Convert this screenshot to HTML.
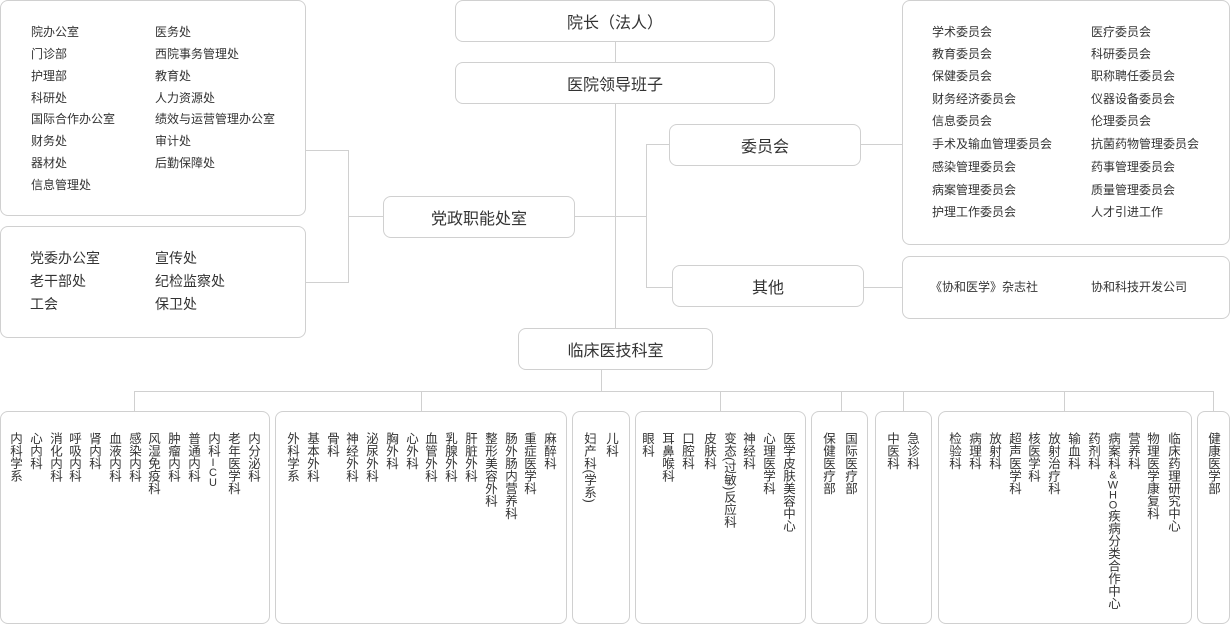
<!DOCTYPE html>
<html><head><meta charset="utf-8"><style>
body{margin:0;width:1230px;height:624px;position:relative;background:#fff;font-family:"Liberation Sans","Noto Sans CJK SC",sans-serif;color:#333;overflow:hidden}
.b{position:absolute;border:1px solid #d0d0d0;border-radius:8px;box-sizing:border-box;background:#fff}
.t{display:flex;align-items:center;justify-content:center;font-size:16px}
.l{position:absolute;background:#d0d0d0}
.s{position:absolute;font-size:12px;white-space:nowrap;line-height:14px}
.m{position:absolute;font-size:14px;white-space:nowrap;line-height:16px}
.v{position:absolute;top:432px;writing-mode:vertical-rl;text-orientation:upright;font-size:12.5px;line-height:14px;letter-spacing:0;white-space:nowrap;transform:translateX(-7px)}
.v .p{text-orientation:mixed;letter-spacing:0}
.v .a{font-size:11px;letter-spacing:-2px}
</style></head><body>
<div class="l" style="left:615px;top:41px;width:1px;height:287px"></div>
<div class="l" style="left:574px;top:216px;width:72px;height:1px"></div>
<div class="l" style="left:646px;top:144px;width:1px;height:144px"></div>
<div class="l" style="left:646px;top:144px;width:24px;height:1px"></div>
<div class="l" style="left:646px;top:287px;width:27px;height:1px"></div>
<div class="l" style="left:860px;top:144px;width:42px;height:1px"></div>
<div class="l" style="left:863px;top:287px;width:39px;height:1px"></div>
<div class="l" style="left:348px;top:216px;width:36px;height:1px"></div>
<div class="l" style="left:348px;top:150px;width:1px;height:133px"></div>
<div class="l" style="left:305px;top:150px;width:43px;height:1px"></div>
<div class="l" style="left:305px;top:282px;width:43px;height:1px"></div>
<div class="l" style="left:601px;top:369px;width:1px;height:22px"></div>
<div class="l" style="left:134px;top:391px;width:1080px;height:1px"></div>
<div class="l" style="left:134px;top:391px;width:1px;height:21px"></div>
<div class="l" style="left:421px;top:391px;width:1px;height:21px"></div>
<div class="l" style="left:720px;top:391px;width:1px;height:21px"></div>
<div class="l" style="left:841px;top:391px;width:1px;height:21px"></div>
<div class="l" style="left:903px;top:391px;width:1px;height:21px"></div>
<div class="l" style="left:1064px;top:391px;width:1px;height:21px"></div>
<div class="l" style="left:1213px;top:391px;width:1px;height:21px"></div>

<div class="b t" style="left:455px;top:0;width:320px;height:42px">院长（法人）</div>
<div class="b t" style="left:455px;top:62px;width:320px;height:42px">医院领导班子</div>
<div class="b t" style="left:383px;top:196px;width:192px;height:42px">党政职能处室</div>
<div class="b t" style="left:669px;top:124px;width:192px;height:42px">委员会</div>
<div class="b t" style="left:672px;top:265px;width:192px;height:42px">其他</div>
<div class="b t" style="left:518px;top:328px;width:195px;height:42px">临床医技科室</div>

<div class="b" style="left:0;top:0;width:306px;height:216px"></div>
<div class="s" style="left:31px;top:25px">院办公室</div><div class="s" style="left:155px;top:25px">医务处</div>
<div class="s" style="left:31px;top:47px">门诊部</div><div class="s" style="left:155px;top:47px">西院事务管理处</div>
<div class="s" style="left:31px;top:69px">护理部</div><div class="s" style="left:155px;top:69px">教育处</div>
<div class="s" style="left:31px;top:91px">科研处</div><div class="s" style="left:155px;top:91px">人力资源处</div>
<div class="s" style="left:31px;top:112px">国际合作办公室</div><div class="s" style="left:155px;top:112px">绩效与运营管理办公室</div>
<div class="s" style="left:31px;top:134px">财务处</div><div class="s" style="left:155px;top:134px">审计处</div>
<div class="s" style="left:31px;top:156px">器材处</div><div class="s" style="left:155px;top:156px">后勤保障处</div>
<div class="s" style="left:31px;top:178px">信息管理处</div>

<div class="b" style="left:0;top:226px;width:306px;height:112px"></div>
<div class="m" style="left:30px;top:250px">党委办公室</div><div class="m" style="left:155px;top:250px">宣传处</div>
<div class="m" style="left:30px;top:273px">老干部处</div><div class="m" style="left:155px;top:273px">纪检监察处</div>
<div class="m" style="left:30px;top:296px">工会</div><div class="m" style="left:155px;top:296px">保卫处</div>

<div class="b" style="left:902px;top:0;width:328px;height:245px"></div>
<div class="s" style="left:932px;top:25px">学术委员会</div><div class="s" style="left:1091px;top:25px">医疗委员会</div>
<div class="s" style="left:932px;top:47px">教育委员会</div><div class="s" style="left:1091px;top:47px">科研委员会</div>
<div class="s" style="left:932px;top:69px">保健委员会</div><div class="s" style="left:1091px;top:69px">职称聘任委员会</div>
<div class="s" style="left:932px;top:92px">财务经济委员会</div><div class="s" style="left:1091px;top:92px">仪器设备委员会</div>
<div class="s" style="left:932px;top:114px">信息委员会</div><div class="s" style="left:1091px;top:114px">伦理委员会</div>
<div class="s" style="left:932px;top:137px">手术及输血管理委员会</div><div class="s" style="left:1091px;top:137px">抗菌药物管理委员会</div>
<div class="s" style="left:932px;top:160px">感染管理委员会</div><div class="s" style="left:1091px;top:160px">药事管理委员会</div>
<div class="s" style="left:932px;top:183px">病案管理委员会</div><div class="s" style="left:1091px;top:183px">质量管理委员会</div>
<div class="s" style="left:932px;top:205px">护理工作委员会</div><div class="s" style="left:1091px;top:205px">人才引进工作</div>

<div class="b" style="left:902px;top:256px;width:328px;height:63px"></div>
<div class="s" style="left:930px;top:280px">《协和医学》杂志社</div><div class="s" style="left:1091px;top:280px">协和科技开发公司</div>

<div class="b" style="left:0;top:411px;width:270px;height:213px"></div>
<div class="b" style="left:275px;top:411px;width:292px;height:213px"></div>
<div class="b" style="left:572px;top:411px;width:58px;height:213px"></div>
<div class="b" style="left:635px;top:411px;width:171px;height:213px"></div>
<div class="b" style="left:811px;top:411px;width:57px;height:213px"></div>
<div class="b" style="left:875px;top:411px;width:57px;height:213px"></div>
<div class="b" style="left:938px;top:411px;width:254px;height:213px"></div>
<div class="b" style="left:1197px;top:411px;width:33px;height:213px"></div>

<div class="v" style="left:15px">内科学系</div>
<div class="v" style="left:35px">心内科</div>
<div class="v" style="left:55px">消化内科</div>
<div class="v" style="left:74px">呼吸内科</div>
<div class="v" style="left:94px">肾内科</div>
<div class="v" style="left:114px">血液内科</div>
<div class="v" style="left:134px">感染内科</div>
<div class="v" style="left:153px">风湿免疫科</div>
<div class="v" style="left:173px">肿瘤内科</div>
<div class="v" style="left:193px">普通内科</div>
<div class="v" style="left:213px">内科<span class="a">ICU</span></div>
<div class="v" style="left:233px">老年医学科</div>
<div class="v" style="left:253px">内分泌科</div>

<div class="v" style="left:292px">外科学系</div>
<div class="v" style="left:312px">基本外科</div>
<div class="v" style="left:332px">骨科</div>
<div class="v" style="left:351px">神经外科</div>
<div class="v" style="left:371px">泌尿外科</div>
<div class="v" style="left:391px">胸外科</div>
<div class="v" style="left:411px">心外科</div>
<div class="v" style="left:430px">血管外科</div>
<div class="v" style="left:450px">乳腺外科</div>
<div class="v" style="left:470px">肝脏外科</div>
<div class="v" style="left:490px">整形美容外科</div>
<div class="v" style="left:510px">肠外肠内营养科</div>
<div class="v" style="left:529px">重症医学科</div>
<div class="v" style="left:549px">麻醉科</div>

<div class="v" style="left:589px">妇产科<span class="p">(</span>学系<span class="p">)</span></div>
<div class="v" style="left:611px">儿科</div>

<div class="v" style="left:647px">眼科</div>
<div class="v" style="left:667px">耳鼻喉科</div>
<div class="v" style="left:687px">口腔科</div>
<div class="v" style="left:709px">皮肤科</div>
<div class="v" style="left:729px">变态<span class="p">(</span>过敏<span class="p">)</span>反应科</div>
<div class="v" style="left:748px">神经科</div>
<div class="v" style="left:768px">心理医学科</div>
<div class="v" style="left:788px">医学皮肤美容中心</div>

<div class="v" style="left:828px">保健医疗部</div>
<div class="v" style="left:850px">国际医疗部</div>
<div class="v" style="left:892px">中医科</div>
<div class="v" style="left:912px">急诊科</div>

<div class="v" style="left:954px">检验科</div>
<div class="v" style="left:974px">病理科</div>
<div class="v" style="left:994px">放射科</div>
<div class="v" style="left:1014px">超声医学科</div>
<div class="v" style="left:1033px">核医学科</div>
<div class="v" style="left:1053px">放射治疗科</div>
<div class="v" style="left:1073px">输血科</div>
<div class="v" style="left:1093px">药剂科</div>
<div class="v" style="left:1113px">病案科<span class="a">&amp;WHO</span>疾病分类合作中心</div>
<div class="v" style="left:1133px">营养科</div>
<div class="v" style="left:1152px">物理医学康复科</div>
<div class="v" style="left:1173px">临床药理研究中心</div>

<div class="v" style="left:1213px">健康医学部</div>
</body></html>
